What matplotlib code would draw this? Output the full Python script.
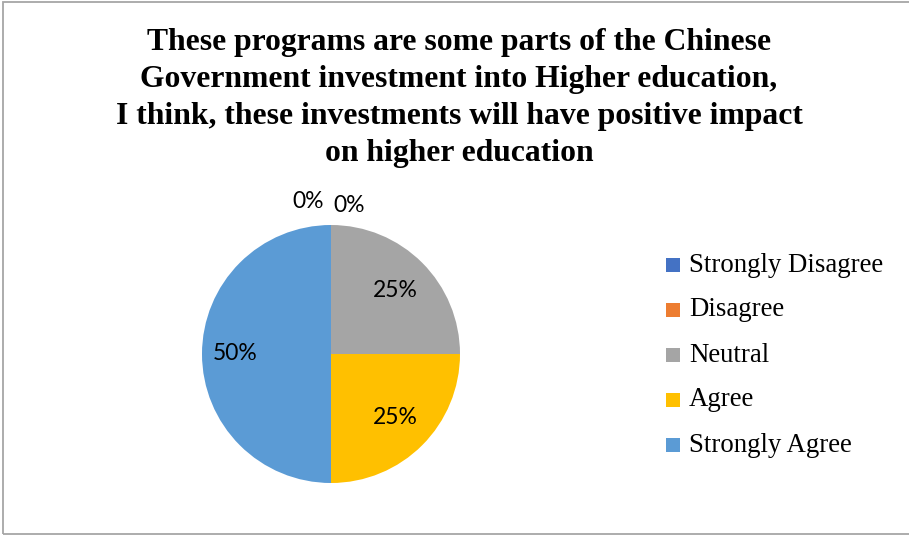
import matplotlib
matplotlib.use("Agg")
import matplotlib.pyplot as plt
import numpy as np
from matplotlib.patches import Rectangle

# Survey responses
categories = ["Strongly Disagree", "Disagree", "Neutral", "Agree", "Strongly Agree"]
shares = [0, 0, 25, 25, 50]
colors = ["#4472C4", "#ED7D31", "#A5A5A5", "#FFC000", "#5B9BD5"]
title = ("These programs are some parts of the Chinese\n"
         "Government investment into Higher education,\n"
         "I think, these investments will have positive impact\n"
         "on higher education")

W, H = 909, 536
fig = plt.figure(figsize=(W / 100, H / 100), dpi=100)
ax = fig.add_axes([0, 0, 1, 1])

# chart frame
ax.add_patch(Rectangle((3, 2), W + 10, H - 4, fill=False, edgecolor="#A6A6A6", lw=1.3))

cx, cy, R = 331, H - 354, 129
wedges, _ = ax.pie(shares, colors=colors, startangle=90, counterclock=False,
                   center=(cx, cy), radius=R, wedgeprops=dict(linewidth=0),
                   frame=True)
ax.set_xlim(0, W)
ax.set_ylim(0, H)
ax.set_aspect("equal")
ax.axis("off")

label_font = dict(family="Lato", fontsize=16.5, color="#000000")
zero_offsets = {0: (-23, 1.18), 1: (18, 1.155)}
for i, (w, v) in enumerate(zip(wedges, shares)):
    mid = np.deg2rad((w.theta1 + w.theta2) / 2)
    txt = f"{v:.0f}%"
    if v == 0:
        dx, rf = zero_offsets[i]
        ax.text(cx + dx, cy + R * rf, txt, ha="center", va="center", **label_font)
    else:
        frac = 0.70 if v < 50 else 0.74
        x = cx + R * frac * np.cos(mid)
        y = cy + R * frac * np.sin(mid)
        ax.text(x, y, txt, ha="center", va="center", **label_font)

ax.text(459, H - 98, title, ha="center", va="center", family="Liberation Serif",
        fontweight="bold", fontsize=22.8, linespacing=1.36)

# legend
y0 = H - 265
for i, (c, name) in enumerate(zip(colors, categories)):
    y = y0 - i * 45
    ax.add_patch(Rectangle((666, y - 7), 14, 14, facecolor=c, edgecolor="none"))
    ax.text(689, y - 6.5, name, ha="left", va="baseline", family="Liberation Serif",
            fontsize=19.3, color="#000000")

fig.savefig("out.png", dpi=100)
